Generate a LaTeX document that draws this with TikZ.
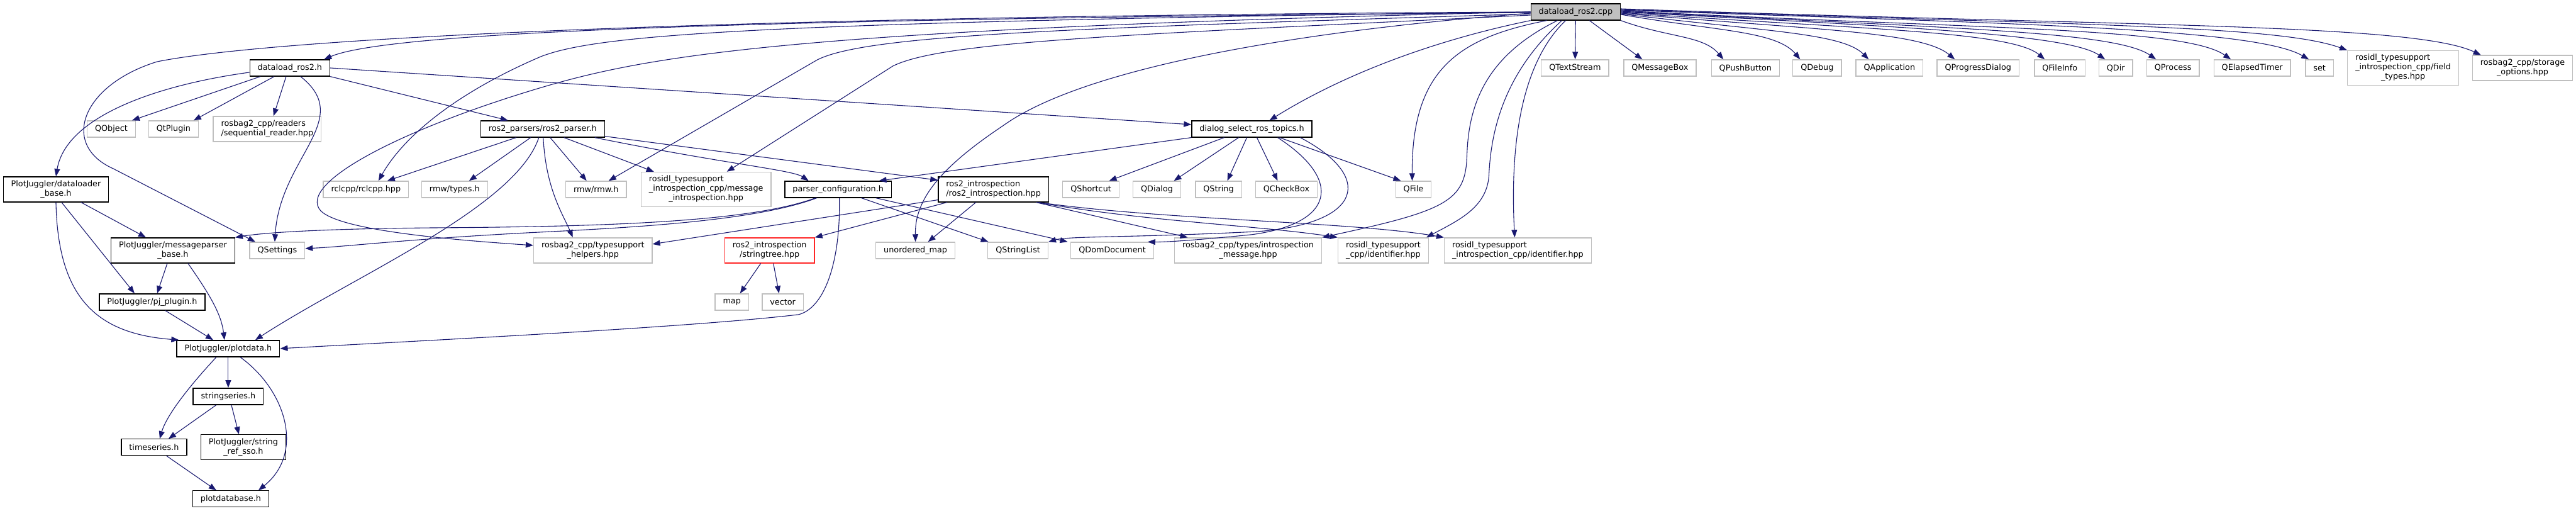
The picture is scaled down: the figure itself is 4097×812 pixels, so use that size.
\documentclass[tikz,border=0pt]{standalone}
\usepackage{fontspec}
\setmainfont{DejaVu Sans}
\usepackage{tikz}
\usetikzlibrary{arrows.meta}
\definecolor{edgeblue}{HTML}{191970}
\definecolor{extgray}{HTML}{BFBFBF}
\newcommand{\lbltwo}[2]{\begin{tabular}{@{}l@{}}#1\\\multicolumn{1}{@{}c@{}}{#2}\end{tabular}}
\newcommand{\lblthree}[3]{\begin{tabular}{@{}l@{}}#1\\#2\\\multicolumn{1}{@{}c@{}}{#3}\end{tabular}}
\tikzset{
  docbox/.style={rectangle, draw=black, fill=white, line width=1.3pt,
    minimum height=26pt, inner xsep=12.5pt, inner ysep=5pt,
    font=\fontsize{12.8}{15}\selectfont},
  extbox/.style={docbox, draw=extgray},
  rootbox/.style={docbox, fill=extgray},
  redbox/.style={docbox, draw=red!85!white},
  incl/.style={draw=edgeblue, line width=1.1pt,
    -{Triangle[length=12pt,width=9pt]}},
}

\begin{document}
\begin{tikzpicture}[x=1pt,y=1pt]
  \useasboundingbox (0,0) rectangle (4097,-812);
  % top file
  \node[rootbox] (root) at (2506,-19) {dataload\_ros2.cpp};
  % row 1
  \node[docbox] (dh) at (461,-108) {dataload\_ros2.h};
  \node[extbox] (qts) at (2505,-108) {QTextStream};
  \node[extbox] (qmb) at (2640,-108) {QMessageBox};
  \node[extbox] (qpb) at (2776,-108) {QPushButton};
  \node[extbox] (qdbg) at (2890,-108) {QDebug};
  \node[extbox] (qapp) at (3005,-108) {QApplication};
  \node[extbox] (qpd) at (3146,-108) {QProgressDialog};
  \node[extbox] (qfi) at (3276,-108) {QFileInfo};
  \node[extbox] (qdir) at (3365,-108) {QDir};
  \node[extbox] (qproc) at (3456,-108) {QProcess};
  \node[extbox] (qet) at (3582,-108) {QElapsedTimer};
  \node[extbox] (setn) at (3689,-108) {set};
  \node[extbox] (ftypes) at (3822,-108)
    {\lblthree{rosidl\_typesupport}{\_introspection\_cpp/field}{\_types.hpp}};
  \node[extbox] (sopts) at (4012,-108) {\lbltwo{rosbag2\_cpp/storage}{\_options.hpp}};
  % row 2
  \node[extbox] (qo) at (177,-205) {QObject};
  \node[extbox] (qtp) at (276,-205) {QtPlugin};
  \node[extbox] (sr) at (425,-205) {\lbltwo{rosbag2\_cpp/readers}{/sequential\_reader.hpp}};
  \node[docbox] (rp) at (863,-205) {ros2\_parsers/ros2\_parser.h};
  \node[docbox] (dlg) at (1991,-205) {dialog\_select\_ros\_topics.h};
  % row 3
  \node[docbox] (dlb) at (89,-301) {\lbltwo{PlotJuggler/dataloader}{\_base.h}};
  \node[extbox] (rc) at (582,-301) {rclcpp/rclcpp.hpp};
  \node[extbox] (rmwt) at (723,-301) {rmw/types.h};
  \node[extbox] (rmw) at (948,-301) {rmw/rmw.h};
  \node[extbox] (mi) at (1123,-301)
    {\lblthree{rosidl\_typesupport}{\_introspection\_cpp/message}{\_introspection.hpp}};
  \node[docbox] (pc) at (1333,-301) {parser\_configuration.h};
  \node[docbox] (ri) at (1580,-301) {\lbltwo{ros2\_introspection}{/ros2\_introspection.hpp}};
  \node[extbox] (qsc) at (1735,-301) {QShortcut};
  \node[extbox] (qdlg) at (1840,-301) {QDialog};
  \node[extbox] (qstr) at (1938,-301) {QString};
  \node[extbox] (qcb) at (2046,-301) {QCheckBox};
  \node[extbox] (qfile) at (2248,-301) {QFile};
  % row 4
  \node[docbox] (mpb) at (275,-398) {\lbltwo{PlotJuggler/messageparser}{\_base.h}};
  \node[extbox] (qs) at (441,-398) {QSettings};
  \node[extbox] (th) at (943,-398) {\lbltwo{rosbag2\_cpp/typesupport}{\_helpers.hpp}};
  \node[redbox] (st) at (1224,-398) {\lbltwo{ros2\_introspection}{/stringtree.hpp}};
  \node[extbox] (um) at (1456,-398) {unordered\_map};
  \node[extbox] (qsl) at (1619,-398) {QStringList};
  \node[extbox] (qdd) at (1769,-398) {QDomDocument};
  \node[extbox] (im) at (1985,-398) {\lbltwo{rosbag2\_cpp/types/introspection}{\_message.hpp}};
  \node[extbox] (rci) at (2200,-398) {\lbltwo{rosidl\_typesupport}{\_cpp/identifier.hpp}};
  \node[extbox] (rii) at (2414,-398) {\lbltwo{rosidl\_typesupport}{\_introspection\_cpp/identifier.hpp}};
  % lower rows
  \node[docbox] (pjp) at (242,-480) {PlotJuggler/pj\_plugin.h};
  \node[extbox] (mapn) at (1164,-480) {map};
  \node[extbox] (vec) at (1245,-480) {vector};
  \node[docbox] (pd) at (363,-554) {PlotJuggler/plotdata.h};
  \node[docbox] (ss) at (363,-630) {stringseries.h};
  \node[docbox] (ts) at (245,-711) {timeseries.h};
  \node[docbox] (srs) at (387,-711) {\lbltwo{PlotJuggler/string}{\_ref\_sso.h}};
  \node[docbox] (pdb) at (367,-793) {plotdatabase.h};

  % edges of dataload_ros2.cpp, to the left
  \draw[incl] ([yshift=-1pt]root.west) .. controls (1200,-30) and (620,-50) .. ([xshift=-10pt]dh.north east);
  \draw[incl] (root.west) .. controls (1100,-26) and (430,-62) .. (250,-98)
    .. controls (130,-135) and (95,-230) .. (180,-268) -- ([xshift=-35pt]qs.north);
  \draw[incl] (root.west) .. controls (1200,-35) and (950,-55) .. (860,-90)
    .. controls (720,-150) and (640,-220) .. ([xshift=20pt]rc.north);
  \draw[incl] (root.west) .. controls (1300,-45) and (1050,-85) .. (875,-135)
    .. controls (650,-200) and (470,-290) .. (510,-335)
    .. controls (540,-365) and (700,-380) .. ([yshift=8pt]th.west);
  \draw[incl] ([yshift=-3pt]root.west) .. controls (1700,-45) and (1380,-55) .. (1300,-95) -- ([xshift=20pt]rmw.north);
  \draw[incl] ([yshift=-5pt]root.west) .. controls (1800,-55) and (1500,-65) .. (1420,-105) -- ([xshift=33pt]mi.north);
  \draw[incl] ([yshift=-2pt]root.west) .. controls (2050,-50) and (1720,-110) .. (1595,-200)
    .. controls (1490,-270) and (1455,-320) .. (um.north);
  \draw[incl] (root.south west) .. controls (2300,-60) and (2150,-110) .. ([xshift=28pt]dlg.north);
  % edges of dataload_ros2.cpp, downwards
  \draw[incl] ([xshift=-46pt]root.south) .. controls (2320,-60) and (2245,-110) .. ([xshift=-2pt]qfile.north);
  \draw[incl] ([xshift=-29pt]root.south) .. controls (2360,-90) and (2335,-170) .. (2333,-250)
    .. controls (2330,-320) and (2300,-335) .. (im.north east);
  \draw[incl] ([xshift=-22pt]root.south) .. controls (2410,-100) and (2372,-180) .. (2368,-280)
    .. controls (2364,-330) and (2320,-350) .. ([xshift=-4pt]rci.north east);
  \draw[incl] ([xshift=-16pt]root.south) .. controls (2430,-90) and (2400,-200) .. ([xshift=-5pt]rii.north);
  \draw[incl] (root) -- (qts);
  \draw[incl] ([xshift=22pt]root.south) -- ([xshift=-28pt]qmb.north);
  % edges of dataload_ros2.cpp, to the right
  \draw[incl] (root.south east) .. controls +(-20:80) and +(130:50) .. ([xshift=-35pt]qpb.north);
  \draw[incl] ([yshift=-4pt]root.east) .. controls +(-10:150) and +(130:60) .. ([xshift=-27pt]qdbg.north);
  \draw[incl] ([yshift=-3pt]root.east) .. controls +(-7:230) and +(135:60) .. ([xshift=-33pt]qapp.north);
  \draw[incl] ([yshift=-2pt]root.east) .. controls +(-5:300) and +(140:70) .. ([xshift=-37pt]qpd.north);
  \draw[incl] ([yshift=-1pt]root.east) .. controls +(-4:380) and +(140:70) .. ([xshift=-24pt]qfi.north);
  \draw[incl] (root.east) .. controls +(-3:450) and +(145:70) .. ([xshift=-17pt]qdir.north);
  \draw[incl] ([yshift=1pt]root.east) .. controls +(-3:500) and +(145:80) .. ([xshift=-27pt]qproc.north);
  \draw[incl] ([yshift=2pt]root.east) .. controls +(-3:560) and +(145:90) .. ([xshift=-34pt]qet.north);
  \draw[incl] ([yshift=3pt]root.east) .. controls +(-2:620) and +(150:100) .. ([xshift=-17pt]setn.north);
  \draw[incl] ([yshift=4pt]root.east) .. controls +(-2:700) and +(160:120) .. (ftypes.north west);
  \draw[incl] ([yshift=5pt]root.east) .. controls +(-2:800) and +(155:120) .. ([xshift=14pt]sopts.north west);

  % dataload_ros2.h
  \draw[incl] ([xshift=-47pt]dh.south) -- ([xshift=33pt]qo.north);
  \draw[incl] ([xshift=-25pt]dh.south) -- ([xshift=32pt]qtp.north);
  \draw[incl] ([xshift=-6pt]dh.south) -- ([xshift=10pt]sr.north);
  \draw[incl] ([xshift=17pt]dh.south) .. controls (565,-190) and (445,-250) .. ([xshift=-4pt]qs.north);
  \draw[incl] (dh.south east) -- ([xshift=-55pt]rp.north);
  \draw[incl] ([yshift=-7pt]dh.west) .. controls (250,-135) and (105,-185) .. (dlb.north);
  \draw[incl] (dh.east) -- ([yshift=7pt]dlg.west);

  % ros2_parser.h
  \draw[incl] ([xshift=-42pt]rp.south) -- ([xshift=34pt]rc.north);
  \draw[incl] ([xshift=-19pt]rp.south) -- ([xshift=23pt]rmwt.north);
  \draw[incl] ([xshift=1pt]rp.south) .. controls (868,-300) and (895,-340) .. ([xshift=-32pt]th.north);
  \draw[incl] ([xshift=-6pt]rp.south) .. controls (820,-330) and (560,-440) .. ([xshift=43pt]pd.north);
  \draw[incl] ([xshift=12pt]rp.south) -- ([xshift=-15pt]rmw.north);
  \draw[incl] ([xshift=34pt]rp.south) -- ([xshift=-83pt]mi.north);
  \draw[incl] ([xshift=83pt]rp.south) .. controls (1150,-260) and (1260,-270) .. ([xshift=-47pt]pc.north);
  \draw[incl] ([yshift=2pt]rp.south east) -- ([yshift=-6pt]ri.north west);

  % dialog_select_ros_topics.h
  \draw[incl] (dlg.south west) -- ([xshift=65pt]pc.north);
  \draw[incl] ([xshift=-44pt]dlg.south) -- ([xshift=29pt]qsc.north);
  \draw[incl] ([xshift=-21pt]dlg.south) -- ([xshift=27pt]qdlg.north);
  \draw[incl] ([xshift=-8pt]dlg.south) -- ([xshift=14pt]qstr.north);
  \draw[incl] ([xshift=8pt]dlg.south) -- ([xshift=-14pt]qcb.north);
  \draw[incl] ([xshift=44pt]dlg.south) -- ([xshift=-20pt]qfile.north);
  \draw[incl] ([xshift=77pt]dlg.south) .. controls (2185,-280) and (2170,-355) .. (2000,-368)
    .. controls (1800,-378) and (1700,-375) .. (qsl.north east);
  \draw[incl] ([xshift=41pt]dlg.south) .. controls (2135,-285) and (2125,-355) .. (1990,-373)
    .. controls (1900,-382) and (1850,-385) .. ([xshift=-10pt]qdd.north east);

  % parser_configuration.h
  \draw[incl] ([xshift=-36pt]pc.south) .. controls (1200,-350) and (1000,-360) .. (700,-362)
    .. controls (550,-363) and (430,-368) .. (mpb.north east);
  \draw[incl] ([xshift=-34pt]pc.south) .. controls (1200,-352) and (1000,-362) .. (839,-370)
    .. controls (650,-380) and (550,-392) .. ([yshift=3pt]qs.east);
  \draw[incl] ([xshift=2pt]pc.south) .. controls (1337,-420) and (1310,-490) .. (1270,-500)
    .. controls (1100,-520) and (700,-540) .. (pd.east);
  \draw[incl] ([xshift=37pt]pc.south) -- ([xshift=-47pt]qsl.north);
  \draw[incl] ([xshift=60pt]pc.south) -- ([xshift=-71pt]qdd.north);

  % ros2_introspection.hpp
  \draw[incl] ([yshift=4pt]ri.south west) -- ([yshift=10pt]th.east);
  \draw[incl] ([xshift=-74pt]ri.south) -- (st.north east);
  \draw[incl] ([xshift=-28pt]ri.south) -- ([xshift=20pt]um.north);
  \draw[incl] ([xshift=68pt]ri.south) -- ([xshift=-96pt]im.north);
  \draw[incl] ([xshift=70pt]ri.south) .. controls (1820,-352) and (2000,-358) .. (rci.north west);
  \draw[incl] ([xshift=72pt]ri.south) .. controls (1850,-350) and (2150,-352) .. (rii.north west);

  % stringtree.hpp
  \draw[incl] ([xshift=-14pt]st.south) -- ([xshift=13pt]mapn.north);
  \draw[incl] ([xshift=6pt]st.south) -- ([xshift=-6pt]vec.north);

  % PlotJuggler headers
  \draw[incl] ([xshift=40pt]dlb.south) -- ([xshift=-43pt]mpb.north);
  \draw[incl] ([xshift=9pt]dlb.south) -- ([xshift=-28pt]pjp.north);
  \draw[incl] (dlb.south) .. controls (92,-470) and (150,-530) .. ([xshift=4pt]pd.north west);
  \draw[incl] ([xshift=-9pt]mpb.south) -- ([xshift=8pt]pjp.north);
  \draw[incl] ([xshift=24pt]mpb.south) .. controls (335,-470) and (352,-500) .. ([xshift=-6pt]pd.north);
  \draw[incl] ([xshift=21pt]pjp.south) -- ([xshift=-24pt]pd.north);
  \draw[incl] (pd) -- (ss);
  \draw[incl] ([xshift=-19pt]pd.south) .. controls (300,-615) and (265,-660) .. ([xshift=9pt]ts.north);
  \draw[incl] ([xshift=19pt]pd.south) .. controls (455,-620) and (485,-720) .. ([xshift=44pt]pdb.north);
  \draw[incl] ([xshift=-19pt]ss.south) -- ([xshift=23pt]ts.north);
  \draw[incl] ([xshift=5pt]ss.south) -- ([xshift=-7pt]srs.north);
  \draw[incl] ([xshift=20pt]ts.south) -- ([xshift=-23pt]pdb.north);
\end{tikzpicture}
\end{document}
